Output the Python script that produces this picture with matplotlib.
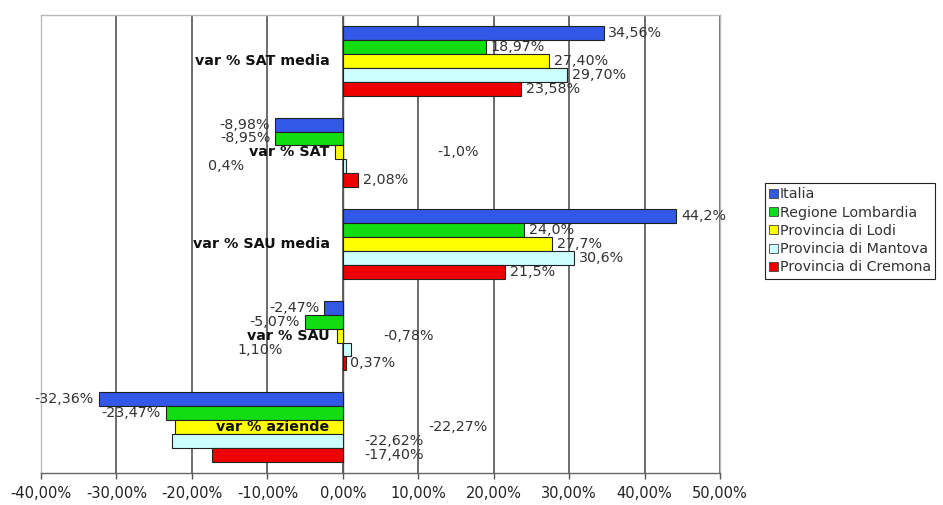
import numpy as np
import matplotlib
matplotlib.use("Agg")
import matplotlib.pyplot as plt
from matplotlib.patches import Patch

# DATA
groups = ["var % SAT media", "var % SAT", "var % SAU media", "var % SAU", "var % aziende"]
series = ["Italia", "Regione Lombardia", "Provincia di Lodi",
          "Provincia di Mantova", "Provincia di Cremona"]
italia = [34.56, -8.98, 44.2, -2.47, -32.36]
lombardia = [18.97, -8.95, 24.0, -5.07, -23.47]
lodi = [27.40, -1.0, 27.7, -0.78, -22.27]
mantova = [29.70, 0.4, 30.6, 1.10, -22.62]
cremona = [23.58, 2.08, 21.5, 0.37, -17.40]
# decimals shown in the value labels [group][series]
decimals = [[2, 2, 2, 2, 2],
            [2, 2, 1, 1, 2],
            [1, 1, 1, 1, 1],
            [2, 2, 2, 2, 2],
            [2, 2, 2, 2, 2]]
xticks = [-40, -30, -20, -10, 0, 10, 20, 30, 40, 50]

colors = ["#3158e6", "#11dd11", "#ffff00", "#ccffff", "#ee0000"]

# labels that excel dropped somewhere else (group, series) -> (x, ha)
label_pos = {(1, 2): (15.3, "center"), (1, 3): (-13.1, "right"),
             (3, 2): (8.7, "center"), (3, 3): (-7.9, "right"),
             (4, 2): (15.3, "center"), (4, 3): (2.9, "left"),
             (4, 4): (2.9, "left")}

plt.rcParams["font.family"] = "DejaVu Sans"

fig = plt.figure(figsize=(9.43, 5.05), dpi=100)
ax = fig.add_axes([41 / 943, 1 - 473 / 505, (720 - 41) / 943, (473 - 15) / 505])

y = np.arange(len(groups))
h = 0.152
all_vals = [italia, lombardia, lodi, mantova, cremona]
for j, (vals, name) in enumerate(zip(all_vals, series)):
    yy = y + (j - 2) * h
    ax.barh(yy, vals, height=h, color=colors[j], edgecolor="#222222",
            linewidth=0.8, zorder=2)
    for i, v in enumerate(vals):
        txt = f"{v:.{decimals[i][j]}f}%".replace(".", ",")
        if (i, j) in label_pos:
            lx, ha = label_pos[(i, j)]
            ax.text(lx, yy[i], txt, ha=ha, va="center", fontsize=10.3,
                    color="#333333", zorder=5)
        else:
            off = 3.5 if v >= 0 else -3.5
            ax.annotate(txt, (v, yy[i]), xytext=(off, 0), textcoords="offset points",
                        ha="left" if v >= 0 else "right", va="center",
                        fontsize=10.3, color="#333333", zorder=5)

# category labels next to the 0 axis
for i, g in enumerate(groups):
    ax.annotate(g, (0, y[i]), xytext=(-9.5, 0), textcoords="offset points",
                ha="right", va="center", fontsize=10.3, fontweight="bold",
                color="#111111", zorder=6)

ax.axvline(0, color="#555555", lw=1, zorder=1.5)

ax.set_xlim(-40, 50)
ax.set_ylim(4.5, -0.5)
ax.set_xticks(xticks)
ax.set_xticklabels([f"{t:.2f}%".replace(".", ",") for t in xticks])
ax.set_yticks([])
ax.tick_params(axis="x", direction="out", length=4, width=1, color="#555555",
               labelsize=10.5, labelcolor="#222222", pad=5)

ax.set_axisbelow(True)
ax.grid(axis="x", color="#444444", lw=1.1)
for s in ["top", "left", "right"]:
    ax.spines[s].set_color("#bbbbbb")
    ax.spines[s].set_linewidth(1)
ax.spines["bottom"].set_color("#666666")
ax.spines["bottom"].set_linewidth(1)

handles = [Patch(facecolor=c, edgecolor="#444444", linewidth=0.6) for c in colors]
leg = fig.legend(handles, series, loc="upper left", bbox_to_anchor=(765 / 943, 1 - 183 / 505),
                 bbox_transform=fig.transFigure, borderaxespad=0, fontsize=10.3,
                 handlelength=0.6, handleheight=0.6, handletextpad=0.15,
                 labelspacing=0.3, borderpad=0.3, fancybox=False, framealpha=1)
leg.get_frame().set_edgecolor("#222222")
leg.get_frame().set_linewidth(0.8)
for t in leg.get_texts():
    t.set_color("#333333")

fig.savefig("out.png", dpi=100, facecolor="white")
